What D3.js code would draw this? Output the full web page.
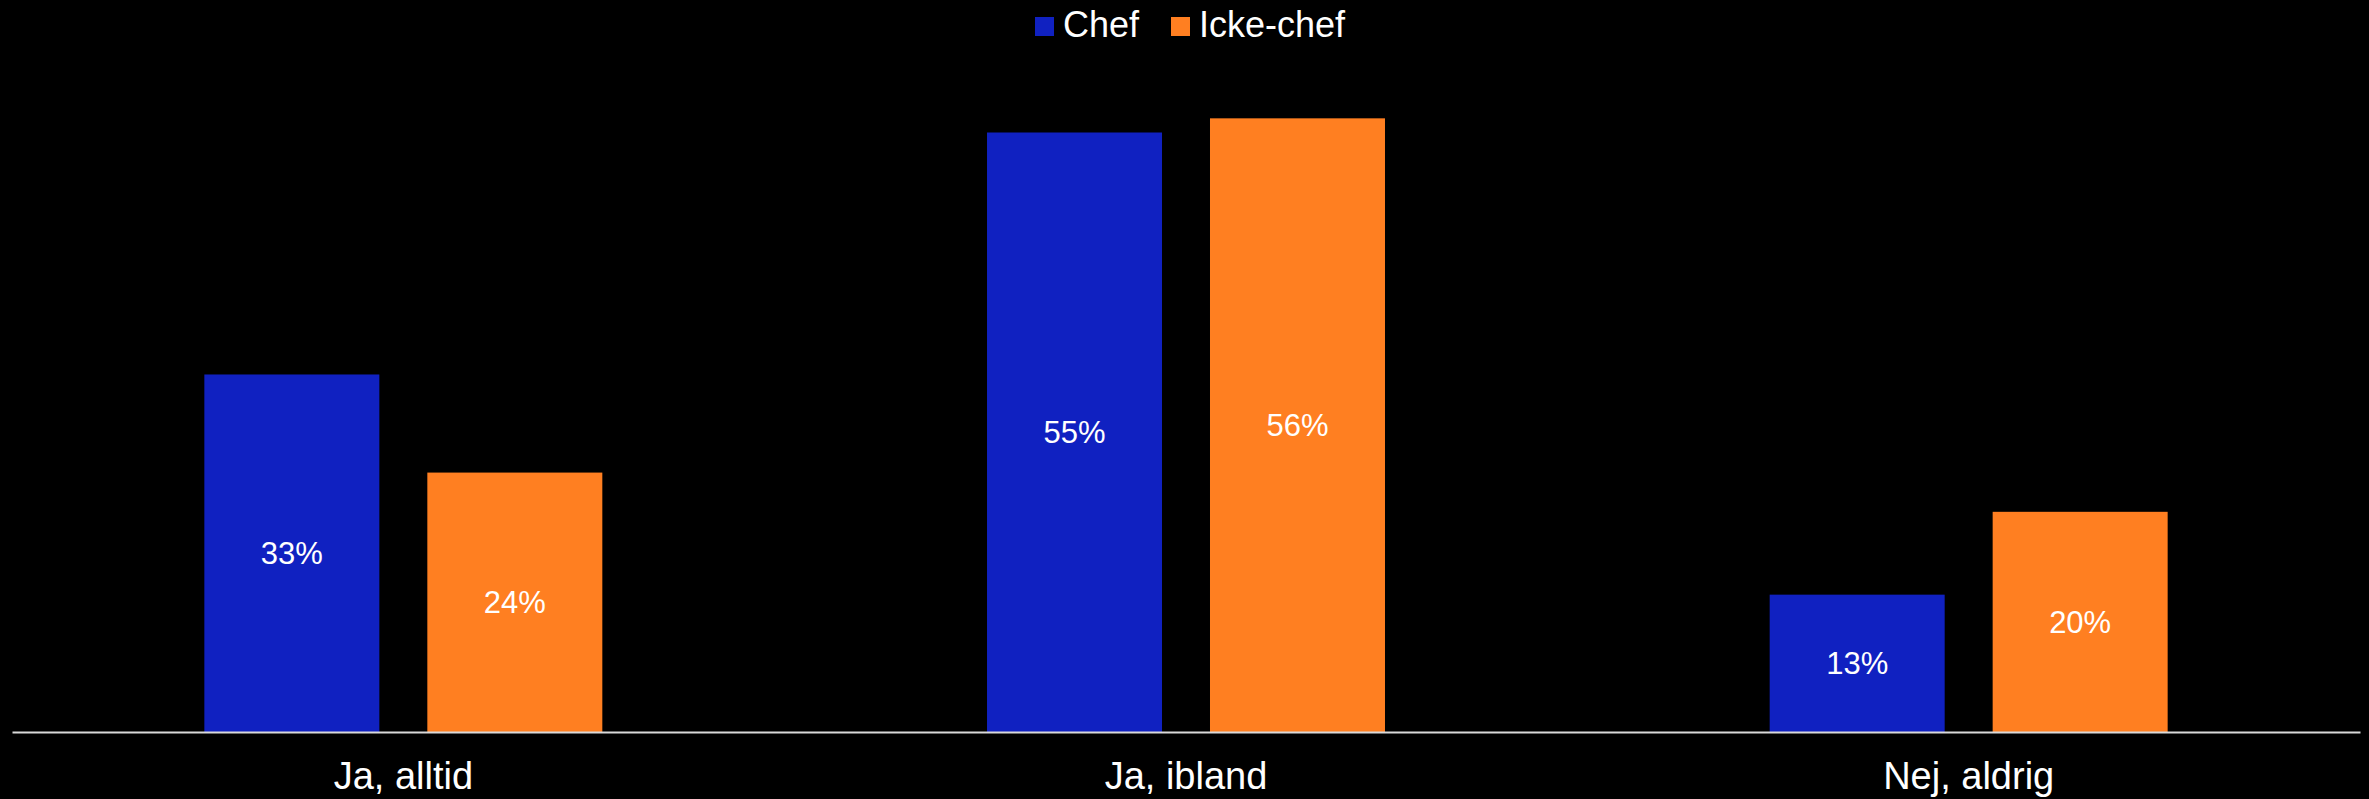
<!DOCTYPE html>
<html>
<head>
<meta charset="utf-8">
<script src="https://cdn.jsdelivr.net/npm/d3@7"></script>
<style>
  body { margin: 0; background: #000; }
  text { font-family: "Liberation Sans", Arial, sans-serif; }
</style>
</head>
<body>
<div id="graph1"></div>
<script>
// data
const categories = ["Ja, alltid", "Ja, ibland", "Nej, aldrig"];
const seriesNames = ["Chef", "Icke-chef"];
const chefValues = [32.8, 55.0, 12.6];
const ickeChefValues = [23.8, 56.3, 20.2];
const colors = ["#1021c1", "#ff7f21"];

const WIDTH = 2369, HEIGHT = 799;
const margin = {top: 0, right: 9, bottom: 67, left: 12};
const baseY = HEIGHT - margin.bottom;

let svg = d3.select("div#graph1")
    .append("svg")
    .attr("width", WIDTH)
    .attr("height", HEIGHT)
    .style("background", "#000");

// build rows for binding
let rows = categories.map(function(c, i) {
    return {cat: c, vals: [chefValues[i], ickeChefValues[i]]};
});

// outer scale per category
let x0 = d3.scaleBand()
    .domain(categories)
    .range([margin.left, WIDTH - margin.right])
    .paddingInner(0)
    .paddingOuter(0);

// inner scale per series
let x1 = d3.scaleBand()
    .domain(seriesNames)
    .range([0, x0.bandwidth()])
    .paddingInner(0.2152)
    .paddingOuter(0.8626);

let y = d3.scaleLinear()
    .domain([0, 1])
    .range([baseY, baseY - 10.9]);

let groups = svg.selectAll("g.grp")
    .data(rows)
    .enter()
    .append("g")
    .attr("class", "grp")
    .attr("transform", function(d) { return `translate(${x0(d.cat)},0)`; });

let cells = groups.selectAll("g.cell")
    .data(function(d) {
        return d.vals.map(function(v, k) { return {name: seriesNames[k], value: v, k: k}; });
    })
    .enter()
    .append("g")
    .attr("class", "cell");

cells.append("rect")
    .attr("x", function(d) { return x1(d.name); })
    .attr("y", function(d) { return y(d.value); })
    .attr("width", x1.bandwidth())
    .attr("height", function(d) { return baseY - y(d.value); })
    .attr("fill", function(d) { return colors[d.k]; });

// value labels in the middle of each bar
cells.append("text")
    .attr("x", function(d) { return x1(d.name) + x1.bandwidth() / 2; })
    .attr("y", function(d) { return (y(d.value) + baseY) / 2; })
    .attr("dy", "0.36em")
    .style("text-anchor", "middle")
    .style("font-size", "31px")
    .attr("fill", "#fff")
    .text(function(d) { return Math.round(d.value) + "%"; });

// x axis
let xAxis = svg.append("g")
    .attr("transform", `translate(0,${baseY})`)
    .call(d3.axisBottom(x0).tickSize(0).tickPadding(0).tickSizeOuter(0));

xAxis.select(".domain")
    .attr("stroke", "#d9d9d9")
    .attr("stroke-width", 2);

xAxis.selectAll(".tick text")
    .attr("fill", "#fff")
    .attr("dy", 0)
    .attr("y", 57)
    .style("font-size", "38px")
    .style("font-family", "'Liberation Sans', Arial, sans-serif");

// legend
let legend = svg.append("g").attr("transform", "translate(1035,0)");
let legendX = [0, 136];

let items = legend.selectAll("g.leg")
    .data(seriesNames)
    .enter()
    .append("g")
    .attr("class", "leg")
    .attr("transform", function(d, i) { return `translate(${legendX[i]},0)`; });

items.append("rect")
    .attr("x", 0)
    .attr("y", 17)
    .attr("width", 19)
    .attr("height", 19)
    .attr("fill", function(d, i) { return colors[i]; });

items.append("text")
    .attr("x", 28)
    .attr("y", 37)
    .style("font-size", "36px")
    .attr("fill", "#fff")
    .text(function(d) { return d; });
</script>
</body>
</html>
